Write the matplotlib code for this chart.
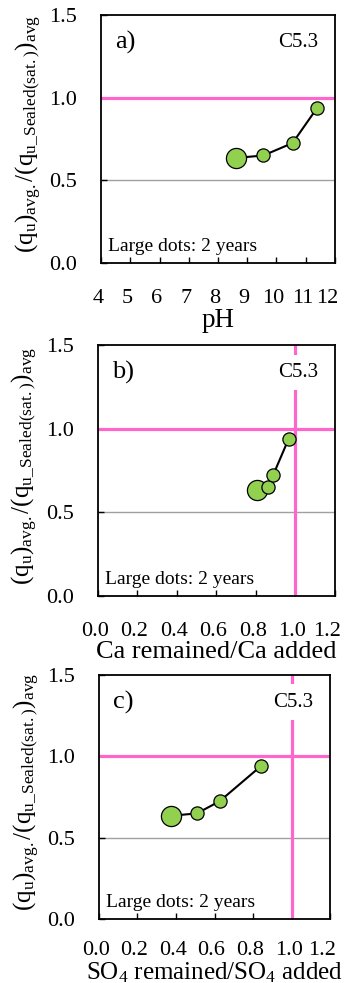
import numpy as np
import matplotlib
matplotlib.use("Agg")
import matplotlib.pyplot as plt
import matplotlib.transforms as mtransforms

plt.rcParams['font.family'] = ['Liberation Serif', 'DejaVu Serif']
plt.rcParams['mathtext.fontset'] = 'custom'
plt.rcParams['mathtext.rm'] = 'Liberation Serif'
plt.rcParams['mathtext.it'] = 'Liberation Serif'

# strength ratio, same for all panels (first point = 2 years)
qu_ratio = [0.635, 0.65, 0.725, 0.94]
ph = [8.62, 9.55, 10.55, 11.4]
ca_ratio = [0.805, 0.862, 0.888, 0.966]
so4_ratio = [0.374, 0.509, 0.627, 0.84]
dot_sizes = [14.5, 9.5, 9.5, 9.5]

panels = [
    ("a)", ph, "pH", 19.5, 19, 0, (4, 12), np.arange(4, 13, 1), "{:.0f}", False),
    ("b)", ca_ratio, "Ca remained/Ca added", 19.0, 19, 0, (0, 1.2), np.arange(0, 1.21, 0.2), "{:.1f}", True),
    ("c)", so4_ratio, r"SO$_4$ remained/SO$_4$ added", 18.0, 16, 0, (0, 1.2), np.arange(0, 1.21, 0.2), "{:.1f}", True),
]
rects = [
    [0.292, 0.7325, 0.676, 0.2523],
    [0.283, 0.3937, 0.685, 0.2553],
    [0.286, 0.0651, 0.668, 0.248],
]

PINK = '#FF66CC'
GREEN = '#92D050'
ylab = r'$\mathregular{(q_{u})_{avg.}/(q_{u\_Sealed(sat.)})_{avg}}$'

fig = plt.figure(figsize=(3.46, 9.83), dpi=100)
shift = mtransforms.ScaledTranslation(-3 / 100, 0, fig.dpi_scale_trans)
shift_last = mtransforms.ScaledTranslation(-8 / 100, 0, fig.dpi_scale_trans)

for (tag, xs, xlab, xfs, tpad, xpad, xlim, xt, fmt, vline), r in zip(panels, rects):
    ax = fig.add_axes(r)
    ax.set_xlim(*xlim)
    ax.set_ylim(0, 1.5)
    ax.axhline(0.5, color='#A0A0A0', lw=1.0, zorder=1)
    ax.axhline(1.0, color=PINK, lw=2.3, zorder=2)
    if vline:
        ax.axvline(1.0, color=PINK, lw=2.3, zorder=2)
    ax.plot(xs, qu_ratio, color='k', lw=1.5, zorder=3)
    for x, y, s in zip(xs, qu_ratio, dot_sizes):
        ax.plot(x, y, 'o', ms=s, mfc=GREEN, mec='k', mew=0.9, zorder=4)
    ax.text(0.06, 0.89, tag, transform=ax.transAxes, fontsize=19, va='center', ha='left')
    ax.text(0.928, 0.89, "C5.3", transform=ax.transAxes, fontsize=15, va='center', ha='right',
            bbox=dict(facecolor='white', edgecolor='none', pad=6), zorder=5)
    ax.text(0.03, 0.066, "Large dots: 2 years", transform=ax.transAxes, fontsize=14,
            va='center', ha='left')
    ax.set_xticks(xt)
    ax.set_xticklabels([fmt.format(v) for v in xt])
    ax.set_yticks([0, 0.5, 1.0, 1.5])
    ax.set_yticklabels(["0.0", "0.5", "1.0", "1.5"])
    ax.tick_params(direction='in', length=4, width=1, labelsize=16)
    ax.tick_params(axis='x', pad=tpad)
    ax.tick_params(axis='y', pad=17)
    labs = ax.get_xticklabels()
    for lab in labs[:-1]:
        lab.set_transform(lab.get_transform() + shift)
    labs[-1].set_transform(labs[-1].get_transform() + shift_last)
    for sp in ax.spines.values():
        sp.set_linewidth(1.3)
    ax.set_xlabel(xlab, fontsize=xfs, labelpad=xpad)
    ax.set_ylabel(ylab, fontsize=18)
    ax.yaxis.set_label_coords(-0.25, 0.52)

fig.savefig('out.png', dpi=100)
